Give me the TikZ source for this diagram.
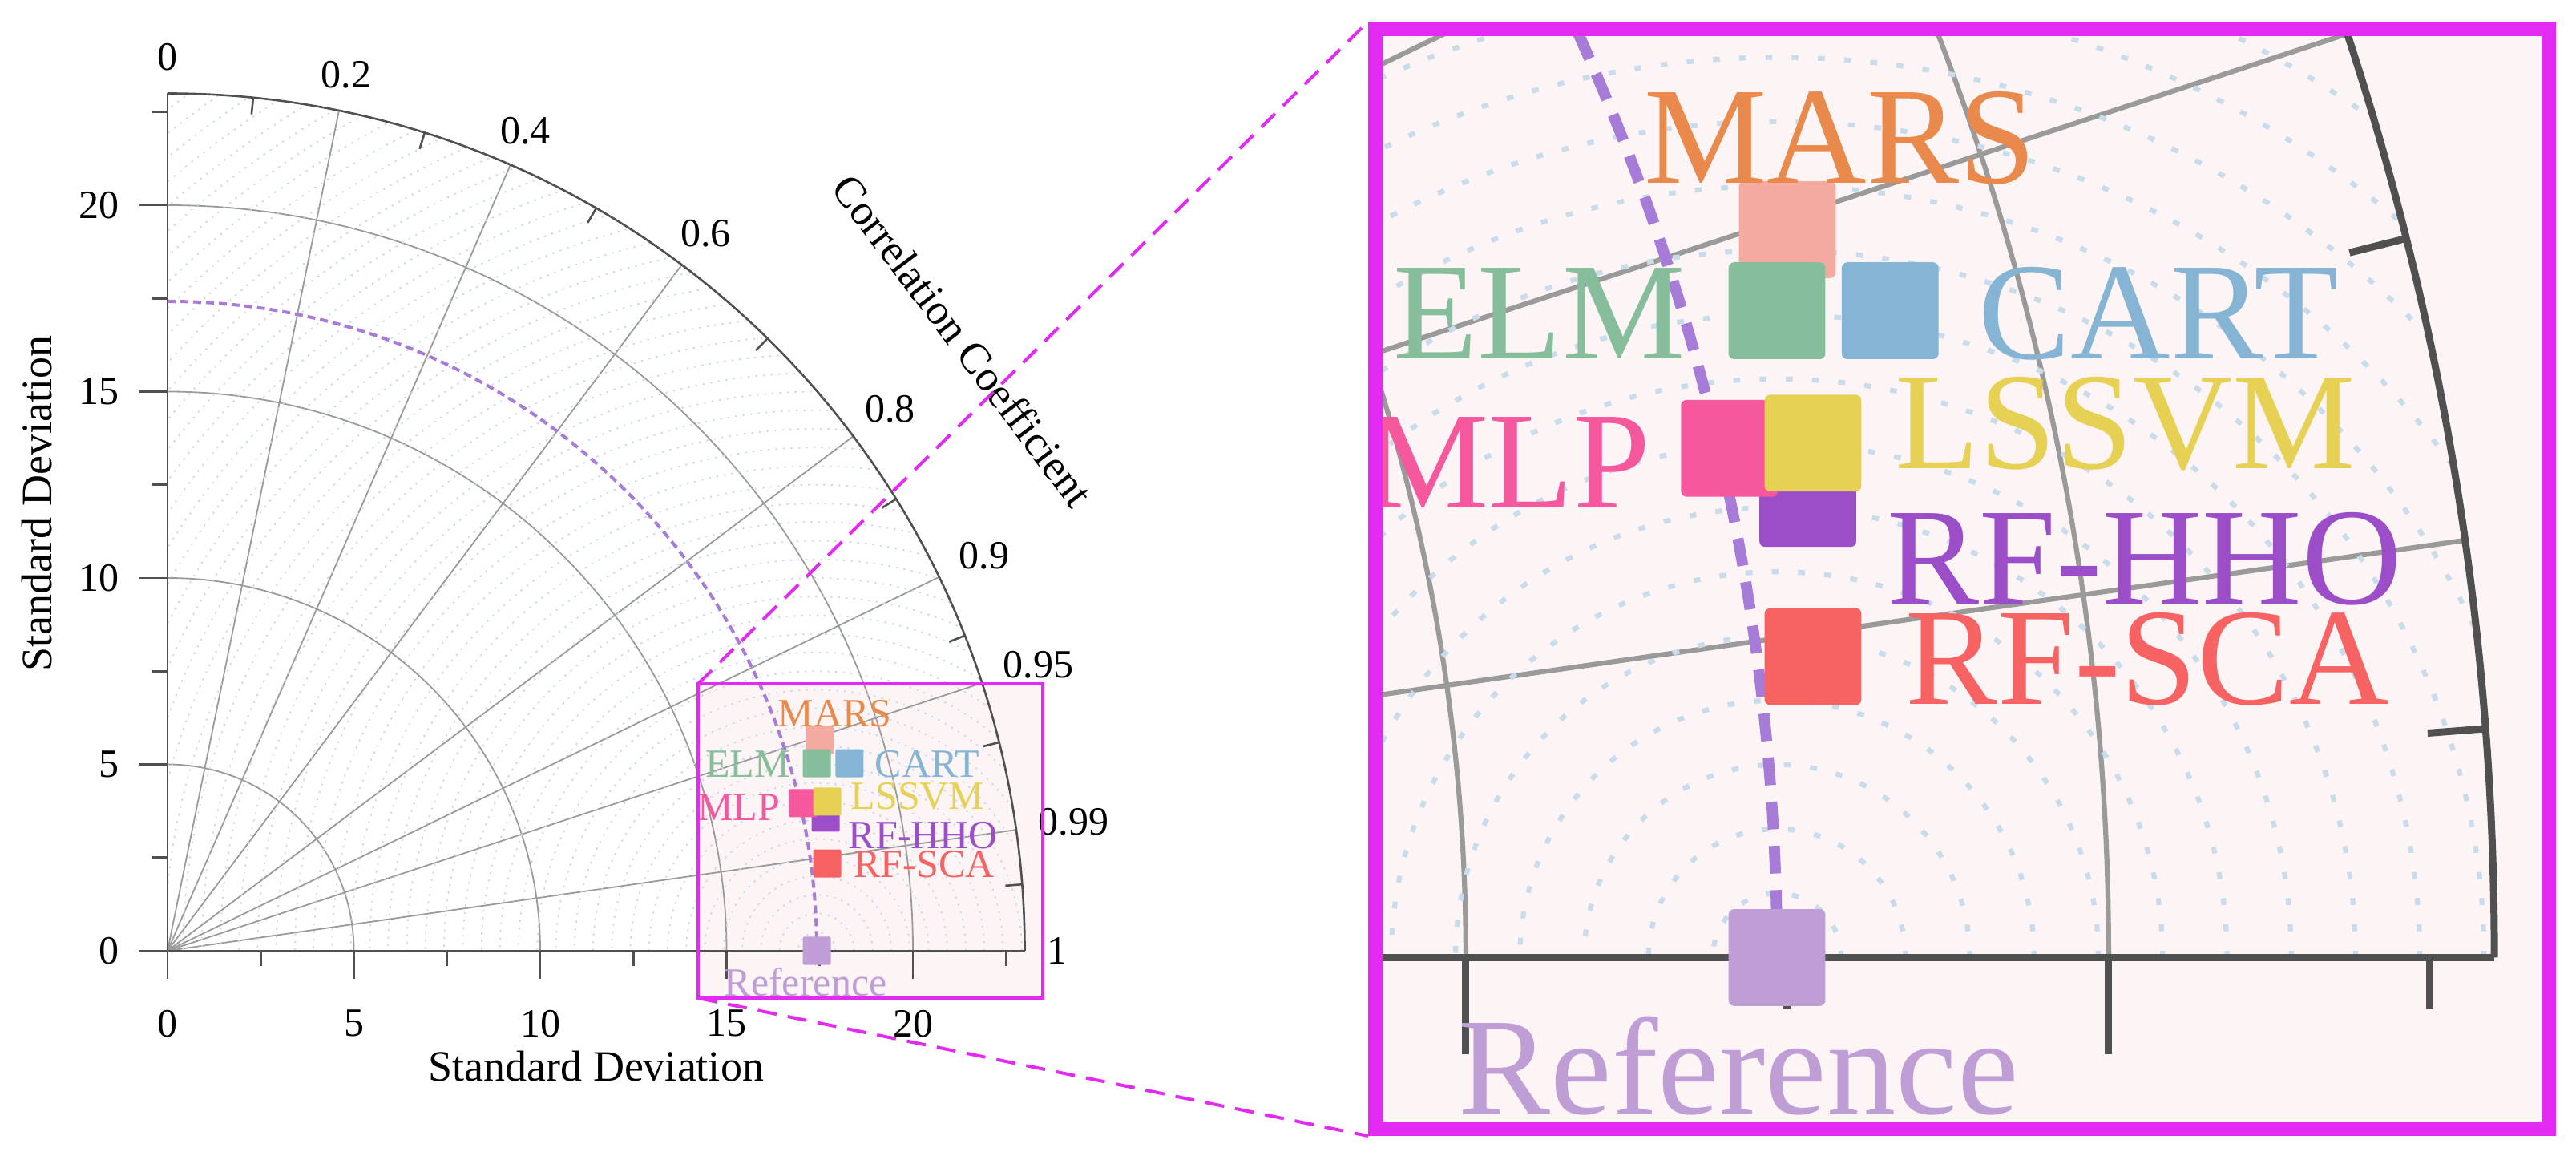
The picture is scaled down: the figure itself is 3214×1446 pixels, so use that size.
\documentclass[tikz,border=0pt]{standalone}
\usepackage{fontspec}
\setmainfont{Liberation Serif}
\definecolor{mag}{HTML}{E22AF2}
\definecolor{boxfill}{HTML}{FDF5F5}
\definecolor{gridgray}{HTML}{9A9A9A}
\definecolor{axisgray}{HTML}{505050}
\definecolor{rmsd}{HTML}{C9DCEC}
\definecolor{refpurple}{HTML}{A77BD8}
\definecolor{cMARSm}{HTML}{F4AA9E}\definecolor{cMARSt}{HTML}{E9894C}
\definecolor{cELM}{HTML}{86BE9C}
\definecolor{cCART}{HTML}{85B4D4}
\definecolor{cMLP}{HTML}{F5589C}
\definecolor{cLSSVM}{HTML}{E6D155}
\definecolor{cHHO}{HTML}{9B4EC7}
\definecolor{cSCA}{HTML}{F76363}
\definecolor{cREF}{HTML}{BF9ED6}
\newcommand\taylorchart[3]{%
  \pgfmathsetlengthmacro\lwG{1.8pt*#1}%
  \pgfmathsetlengthmacro\lwA{2.6pt*#1}%
  \pgfmathsetlengthmacro\lwR{1.8pt*#1}%
  \pgfmathsetlengthmacro\dOn{2.5pt*#1}%
  \pgfmathsetlengthmacro\dOff{7pt*#1}%
  \pgfmathsetlengthmacro\lwP{4pt*#1}%
  \pgfmathsetlengthmacro\pOn{10pt*#1}%
  \pgfmathsetlengthmacro\pOff{6pt*#1}%
  \pgfmathsetlengthmacro\fs{50pt*#1}%
  \pgfmathsetlengthmacro\fst{54pt*#1}%
  \pgfmathsetlengthmacro\msz{35pt*#1}%
  \pgfmathsetlengthmacro\rc{2pt*#1}%
  \tikzset{
    grid/.style={draw=gridgray,line width=\lwG},
    ax/.style={draw=axisgray,line width=\lwA},
    rm/.style={draw=rmsd,line width=\lwR,dash pattern=on \dOn off \dOff},
    lab/.style={inner sep=0pt,font=\fontsize{\fs}{\fs}\selectfont},
    ttl/.style={inner sep=0pt,font=\fontsize{\fst}{\fst}\selectfont},
    mk/.style={inner sep=0pt,minimum size=\msz,rounded corners=\rc}}
  \foreach \r in {5,10,15,20}{\draw[grid] (\r,0) arc[start angle=0,end angle=90,radius=\r];}
  \foreach \c in {0.2,0.4,0.6,0.8,0.9,0.95,0.99}{\draw[grid] (0,0) -- ({acos(\c)}:23);}
  \begin{scope}
    \clip (0,0) -- (23,0) arc[start angle=0,end angle=90,radius=23] -- cycle;
    \foreach \r in {0.5,1.0,...,29.0}{\draw[rm] (17.42,0) circle[radius=\r];}
  \end{scope}
  \draw[ax] (0,-0.75) -- (0,23);
  \draw[ax] (-0.75,0) -- (23,0);
  \draw[ax] (23,0) arc[start angle=0,end angle=90,radius=23];
  \foreach \v in {5,10,15,20}{\draw[ax] (\v,0) -- (\v,-0.75); \draw[ax] (0,\v) -- (-0.75,\v);}
  \foreach \v in {2.5,7.5,12.5,17.5,22.5}{\draw[ax] (\v,0) -- (\v,-0.4); \draw[ax] (0,\v) -- (-0.4,\v);}
  \foreach \c in {0.1,0.3,0.5,0.7,0.85,0.93,0.97,0.997}{\draw[ax] ({acos(\c)}:23) -- ({acos(\c)}:22.55);}
  \ifnum#3=1
  \foreach \v in {0,5,10,15,20}{\node[lab] (#2x\v) at (\v,-1.95) {\v}; \node[lab,anchor=east] (#2y\v) at (-1.3,\v) {\v};}
  \foreach \c in {0,0.2,0.4,0.6,0.8,0.9,0.95,0.99,1}{%
    \pgfmathsetmacro\ang{acos(\c)}\pgfmathsetmacro\an{\ang+180}%
    \node[lab,anchor=\an] (#2c\c) at (\ang:23.6) {\c};}
  \node[ttl] (#2xt) at (11.5,-3.1) {Standard Deviation};
  \node[ttl,rotate=90] (#2yt) at (-3.5,12) {Standard Deviation};
  \node[ttl,rotate=-53] (#2ct) at (37.5:26.9) {Correlation Coefficient};
  \fi
  \draw[draw=refpurple,line width=\lwP,dash pattern=on \pOn off \pOff] (0,17.42) arc[start angle=90,end angle=0,radius=17.42];
  \node[mk,fill=cMARSm] (#2mars) at (17.5,5.66) {};
  \node[mk,fill=cELM] (#2elm) at (17.42,5.03) {};
  \node[mk,fill=cCART] (#2cart) at (18.3,5.03) {};
  \node[mk,fill=cHHO] (#2hho) at (17.66,3.57) {};
  \node[mk,fill=cMLP] (#2mlp) at (17.05,3.96) {};
  \node[mk,fill=cLSSVM] (#2lssvm) at (17.7,4.0) {};
  \node[mk,fill=cSCA] (#2sca) at (17.7,2.34) {};
  \node[mk,fill=cREF] (#2ref) at (17.42,0) {};
  \node[lab,text=cMARSt] (#2lmars) at (17.91,6.37) {MARS};
  \node[lab,text=cELM] (#2lelm) at (15.57,5.01) {ELM};
  \node[lab,text=cCART] (#2lcart) at (20.39,5.01) {CART};
  \node[lab,text=cMLP] (#2lmlp) at (15.33,3.85) {MLP};
  \node[lab,text=cLSSVM] (#2llssvm) at (20.13,4.15) {LSSVM};
  \node[lab,text=cHHO] (#2lhho) at (20.28,3.10) {RF-HHO};
  \node[lab,text=cSCA] (#2lsca) at (20.3,2.32) {RF-SCA};
  \node[lab,text=cREF] (#2lref) at (17.12,-0.84) {Reference};
}
\begin{document}
\begin{tikzpicture}[x=1pt,y=1pt]
\useasboundingbox (0,0) rectangle (3214,1446);
\coordinate (lsw) at (871,201);
\coordinate (lne) at (1301,593);
\coordinate (lnw) at (871,593);
\coordinate (rsw) at (1716,38);
\coordinate (rne) at (3180,1410);
\coordinate (rnwo) at (1707,1419);
\coordinate (rswo) at (1707,29);
\fill[boxfill] (lsw) rectangle (lne);
\begin{scope}[shift={(209,260)},x=46.5pt,y=46.5pt]
  \taylorchart{1}{L}{1}
\end{scope}
\draw[mag,line width=4.5pt] (lsw) rectangle (lne);
\fill[boxfill] (rsw) rectangle (rne);
\begin{scope}
  \clip (rsw) rectangle (rne);
  \begin{scope}[shift={(-577.1,251.6)},x=160.4pt,y=160.4pt]
    \taylorchart{3.45}{R}{0}
  \end{scope}
\end{scope}
\draw[mag,line width=18pt] (rsw) rectangle (rne);
\draw[mag,line width=4pt,dash pattern=on 24pt off 14pt] (lnw) -- (rnwo);
\draw[mag,line width=4pt,dash pattern=on 24pt off 14pt] (lsw) -- (rswo);
\end{tikzpicture}
\end{document}
